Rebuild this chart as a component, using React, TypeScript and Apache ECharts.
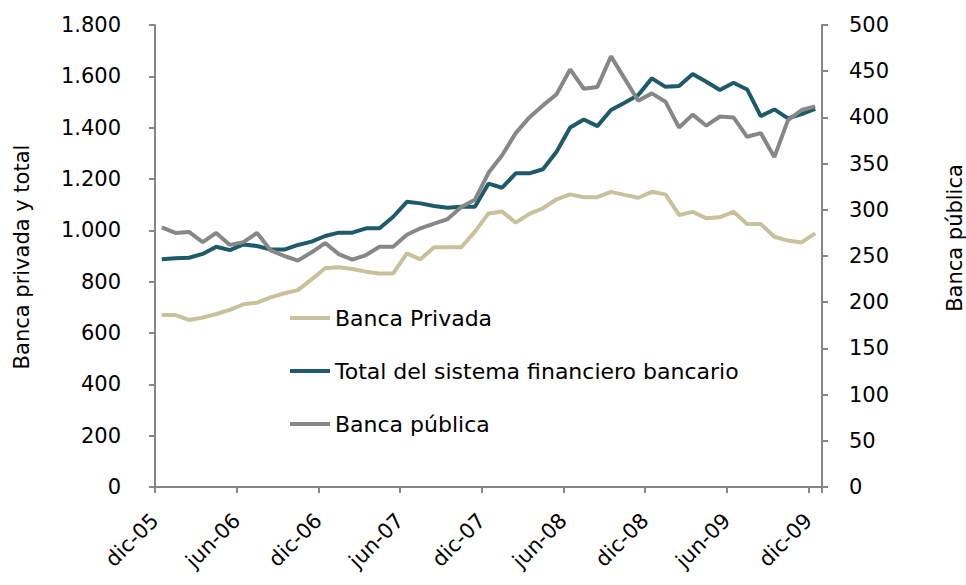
import React, { useEffect, useRef } from 'react';
import * as echarts from 'echarts';

// Tick labels of the monthly axis (every 6 months), 49 months dic-05 .. dic-09
const xLabels = ['dic-05', 'jun-06', 'dic-06', 'jun-07', 'dic-07', 'jun-08', 'dic-08', 'jun-09', 'dic-09'];
const monthCount = 49;

const seriesNames = ['Banca Privada', 'Total del sistema financiero bancario', 'Banca pública'];

const privada = [
  670, 670, 651, 660, 674, 690, 712, 718, 739, 755, 767, 809, 852,
  856, 849, 839, 832, 832, 910, 887, 934, 934, 934, 995, 1066, 1073,
  1030, 1064, 1086, 1121, 1140, 1129, 1129, 1150, 1138, 1127, 1150,
  1140, 1060, 1072, 1047, 1051, 1072, 1025, 1025, 975, 960, 953, 988,
];

const total = [
  887, 891, 893, 908, 936, 923, 945, 939, 925, 925, 943, 956, 978,
  991, 991, 1008, 1008, 1053, 1111, 1105, 1095, 1088, 1092, 1092, 1182, 1166,
  1222, 1222, 1238, 1306, 1401, 1432, 1406, 1469, 1497, 1527, 1592,
  1559, 1562, 1609, 1579, 1547, 1575, 1549, 1445, 1471, 1436, 1453, 1473,
];

const publica = [
  281, 275, 276, 265, 275, 262, 265, 275, 256, 250, 245, 254, 264,
  252, 246, 251, 260, 260, 273, 280, 285, 290, 303, 311, 340,
  359, 383, 400, 413, 425, 452, 431, 433, 466, 442, 418, 426,
  417, 389, 403, 391, 401, 400, 379, 383, 357, 397, 408, 412,
];

const colors = ['#C9C19B', '#1F5A6A', '#878787'];

// each month sits in the middle of its one-month band
const toPoints = (arr: number[]) => arr.map((v, i) => [i + 0.5, v]);

const fmtThousands = (v: number) => {
  if (v >= 1000) {
    const th = Math.floor(v / 1000);
    const rest = String(v % 1000).padStart(3, '0');
    return `${th}.${rest}`;
  }
  return String(v);
};

const FONT = 'DejaVu Sans';
const AXIS_COLOR = '#868686';

export default function App() {
  const ref = useRef<HTMLDivElement>(null);

  useEffect(() => {
    if (!ref.current) return;
    const chart = echarts.init(ref.current, null, { renderer: 'svg' });
    chart.setOption({
      animation: false,
      textStyle: { fontFamily: FONT },
      grid: { left: 155, right: 144, top: 25, bottom: 98 },
      legend: {
        orient: 'vertical',
        left: 290,
        top: 307,
        padding: 0,
        itemWidth: 40,
        itemHeight: 4,
        itemGap: 31,
        icon: 'rect',
        textStyle: { fontSize: 22, color: '#000', fontFamily: FONT },
        data: seriesNames,
      },
      xAxis: {
        type: 'value',
        min: 0,
        max: monthCount,
        interval: 6,
        splitLine: { show: false },
        axisLine: { show: true, onZero: false, lineStyle: { color: AXIS_COLOR, width: 2 } },
        axisTick: { show: true, length: 6, lineStyle: { color: AXIS_COLOR, width: 2 } },
        axisLabel: {
          rotate: 45,
          margin: 30,
          fontSize: 21,
          color: '#000',
          fontFamily: FONT,
          formatter: (v: number) => (v % 6 === 0 && v / 6 < xLabels.length ? xLabels[v / 6] : ''),
        },
      },
      yAxis: [
        {
          type: 'value',
          position: 'left',
          min: 0,
          max: 1800,
          interval: 200,
          splitLine: { show: false },
          axisLine: { show: true, lineStyle: { color: AXIS_COLOR, width: 2 } },
          axisTick: { show: true, length: 6, lineStyle: { color: AXIS_COLOR, width: 2 } },
          axisLabel: { margin: 34, fontSize: 21, color: '#000', fontFamily: FONT, formatter: fmtThousands },
        },
        {
          type: 'value',
          position: 'right',
          min: 0,
          max: 500,
          interval: 50,
          splitLine: { show: false },
          axisLine: { show: true, lineStyle: { color: AXIS_COLOR, width: 2 } },
          axisTick: { show: true, length: 6, lineStyle: { color: AXIS_COLOR, width: 2 } },
          axisLabel: { margin: 27, fontSize: 21, color: '#000', fontFamily: FONT },
        },
      ],
      graphic: [
        {
          type: 'text',
          x: 22,
          y: 257,
          rotation: Math.PI / 2,
          style: {
            text: 'Banca privada y total',
            fontSize: 21,
            fontFamily: FONT,
            fill: '#000',
            align: 'center',
            verticalAlign: 'middle',
            textAlign: 'center',
            textVerticalAlign: 'middle',
          },
        },
        {
          type: 'text',
          x: 955,
          y: 238,
          rotation: Math.PI / 2,
          style: {
            text: 'Banca pública',
            fontSize: 21,
            fontFamily: FONT,
            fill: '#000',
            align: 'center',
            verticalAlign: 'middle',
            textAlign: 'center',
            textVerticalAlign: 'middle',
          },
        },
      ],
      series: [
        {
          name: seriesNames[0],
          type: 'line',
          yAxisIndex: 0,
          data: toPoints(privada),
          symbol: 'none',
          lineStyle: { width: 4, color: colors[0] },
          itemStyle: { color: colors[0] },
        },
        {
          name: seriesNames[1],
          type: 'line',
          yAxisIndex: 0,
          data: toPoints(total),
          symbol: 'none',
          lineStyle: { width: 4, color: colors[1] },
          itemStyle: { color: colors[1] },
        },
        {
          name: seriesNames[2],
          type: 'line',
          yAxisIndex: 1,
          data: toPoints(publica),
          symbol: 'none',
          lineStyle: { width: 4, color: colors[2] },
          itemStyle: { color: colors[2] },
        },
      ],
    });
    return () => chart.dispose();
  }, []);

  return (
    <div
      ref={ref}
      style={{ position: 'absolute', left: 0, top: 0, width: 966, height: 585 }}
    />
  );
}
